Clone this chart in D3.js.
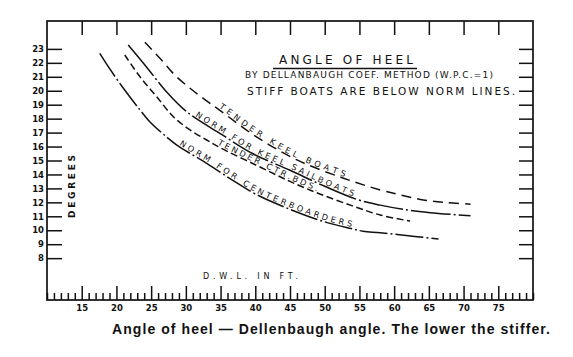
<!DOCTYPE html>
<html><head><meta charset="utf-8">
<script src="https://cdn.jsdelivr.net/npm/d3@7"></script>
<style>
html,body{margin:0;padding:0;background:#fff;}
svg{display:block;}
</style></head>
<body>
<script>
// ---- data ----
const majorX = [15,20,25,30,35,40,45,50,55,60,65,70,75];
const minorX = d3.range(10,81).filter(v => v % 5 !== 0 || v === 10 || v === 80);
const yTicks = [8,9,10,11,12,13,14,15,16,17,18,19,20,21,22,23];

const tenderKeelX = [24.1,26.5,28.4,30.6,32.5,34.9,40,46,52.6,58,60.9,64.2,67.6,71];
const tenderKeelY = [23.47,22.2,21.13,20.18,19.46,18.6,16.75,15.04,13.75,12.89,12.53,12.17,11.98,11.87];

const normKeelX = [21.7,24.3,27.2,30.1,35.2,39.6,45,50,54.7,58,61.9,65.2,71];
const normKeelY = [23.28,21.72,19.93,18.5,16.85,15.5,14.3,13.15,12.2,11.8,11.45,11.26,11.04];

const tenderCbX = [21.2,23.4,25.8,28.2,30.6,33,35,40.2,45,49.3,54,58,62.3];
const tenderCbY = [22.56,21.0,19.57,18.14,17.19,16.47,15.9,14.65,13.5,12.6,11.75,11.09,10.66];

const normCbX = [17.6,19.0,21.0,23.4,24.8,27.2,28.7,33,37,40,45,50,53.8,55.5,58,63.3,66.4];
const normCbY = [22.68,21.6,20.18,18.62,17.78,16.7,16.1,14.8,13.5,12.6,11.5,10.6,10.12,9.93,9.82,9.54,9.37];

const seriesNames = ["TENDER KEEL BOATS","NORM FOR KEEL SAILBOATS","TENDER CTR.BDS.","NORM FOR CENTERBOARDERS"];
const labelStart = [34.6,31.2,34.4,28.9];
const labelEnd = [52.8,54.0,48.8,53.8];

const titleLines = ["ANGLE OF HEEL","BY DELLANBAUGH COEF. METHOD (W.P.C.=1)","STIFF BOATS ARE BELOW NORM LINES."];
const xTitle = "D.W.L. IN FT.";
const yTitle = "DEGREES";
const caption = "Angle of heel \u2014 Dellenbaugh angle. The lower the stiffer.";

// ---- chart ----
const W = 573, H = 357;
const ink = "#111";
const svg = d3.select("body").append("svg").attr("width", W).attr("height", H);
svg.append("rect").attr("width", W).attr("height", H).attr("fill", "#fff");

const x = d3.scaleLinear().domain([10,80]).range([47,533]);
const y = d3.scaleLinear().domain([5,25]).range([300,21]);

function styleAxis(g){
  g.select(".domain").remove();
  g.selectAll(".tick line").attr("stroke", ink).attr("stroke-width", 1.5);
  g.selectAll(".tick text").attr("fill", ink)
    .attr("font-family", "DejaVu Sans").attr("font-weight", "bold").attr("font-size", 8.5);
}

// top ticks
svg.append("g").attr("transform", `translate(0,${y(25)})`)
  .call(d3.axisBottom(x).tickValues(majorX).tickSize(14).tickFormat(""))
  .call(styleAxis);
// bottom minor ticks
svg.append("g").attr("transform", `translate(0,${y(5)})`)
  .call(d3.axisTop(x).tickValues(minorX).tickSize(7).tickFormat(""))
  .call(styleAxis);
// bottom major ticks + labels
svg.append("g").attr("transform", `translate(0,${y(5)})`)
  .call(d3.axisBottom(x).tickValues(majorX).tickSizeInner(-14).tickSizeOuter(0).tickPadding(5))
  .call(styleAxis);
// left ticks + labels
svg.append("g").attr("transform", `translate(${x(10)},0)`)
  .call(d3.axisLeft(y).tickValues(yTicks).tickSizeInner(-15).tickSizeOuter(0).tickPadding(3))
  .call(styleAxis);
// right ticks
svg.append("g").attr("transform", `translate(${x(80)},0)`)
  .call(d3.axisRight(y).tickValues(yTicks).tickSizeInner(-14).tickSizeOuter(0).tickFormat(""))
  .call(styleAxis);

// frame
svg.append("rect")
  .attr("x", x(10)).attr("y", y(25))
  .attr("width", x(80) - x(10)).attr("height", y(5) - y(25))
  .attr("fill", "none").attr("stroke", ink).attr("stroke-width", 1.7);

// curves
const series = [
  {xs: tenderKeelX, ys: tenderKeelY, dash: "10,6"},
  {xs: normKeelX, ys: normKeelY, dash: "40,3,2,3"},
  {xs: tenderCbX, ys: tenderCbY, dash: "7,3.5"},
  {xs: normCbX, ys: normCbY, dash: "28,3,2,3"}
];
const line = d3.line().x(d => x(d[0])).y(d => y(d[1])).curve(d3.curveCatmullRom.alpha(0.5));

function lenAt(node, px){
  let lo = 0, hi = node.getTotalLength();
  for (let i = 0; i < 40; i++){
    const mid = (lo + hi) / 2;
    if (node.getPointAtLength(mid).x < px) lo = mid; else hi = mid;
  }
  return lo;
}

const labelFont = 8.2;
const measurer = svg.append("text").attr("font-family", "DejaVu Sans").attr("font-size", labelFont)
  .attr("x", -100).attr("y", -100);

series.forEach((s, i) => {
  const pts = s.xs.map((v, j) => [v, s.ys[j]]);
  const p = svg.append("path").attr("id", "curve" + i)
    .attr("d", line(pts))
    .attr("fill", "none").attr("stroke", ink).attr("stroke-width", 1.5)
    .attr("stroke-dasharray", s.dash);
  const node = p.node();
  const l0 = lenAt(node, x(labelStart[i]));
  const l1 = lenAt(node, x(labelEnd[i]));
  const chars = Array.from(seriesNames[i]);
  const widths = chars.map(c => {
    measurer.text(c === " " ? "\u00a0" : c);
    return measurer.node().getComputedTextLength();
  });
  const total = d3.sum(widths);
  const gap = (l1 - l0 - total) / (chars.length - 1);
  let pos = l0;
  const g = svg.append("g").attr("class", "curve-label");
  chars.forEach((c, k) => {
    const mid = pos + widths[k] / 2;
    pos += widths[k] + gap;
    if (c === " ") return;
    const a = node.getPointAtLength(Math.max(0, mid - 1));
    const b = node.getPointAtLength(mid + 1);
    const m = node.getPointAtLength(mid);
    const ang = Math.atan2(b.y - a.y, b.x - a.x) * 180 / Math.PI;
    g.append("text")
      .attr("transform", `translate(${m.x},${m.y}) rotate(${ang}) translate(0,-1.6)`)
      .attr("text-anchor", "middle")
      .attr("font-family", "DejaVu Sans").attr("font-size", labelFont).attr("fill", ink)
      .text(c);
  });
});
measurer.remove();

// title block
svg.append("text").attr("x", 279).attr("y", 64)
  .attr("font-family", "DejaVu Sans").attr("font-size", 12).attr("fill", ink)
  .attr("textLength", 134).attr("lengthAdjust", "spacing").text(titleLines[0]);
svg.append("line").attr("x1", 273).attr("x2", 417).attr("y1", 68.5).attr("y2", 68.5)
  .attr("stroke", ink).attr("stroke-width", 1.5);
svg.append("text").attr("x", 245).attr("y", 78)
  .attr("font-family", "DejaVu Sans").attr("font-size", 9).attr("fill", ink)
  .attr("textLength", 248).attr("lengthAdjust", "spacing").text(titleLines[1]);
svg.append("text").attr("x", 247).attr("y", 95)
  .attr("font-family", "DejaVu Sans").attr("font-size", 10.5).attr("fill", ink)
  .attr("textLength", 268).attr("lengthAdjust", "spacing").text(titleLines[2]);

// axis titles
svg.append("text").attr("x", 203).attr("y", 278.5)
  .attr("font-family", "DejaVu Sans").attr("font-size", 8).attr("fill", ink)
  .attr("textLength", 95).attr("lengthAdjust", "spacing").text(xTitle);
svg.append("text")
  .attr("transform", "translate(75,218) rotate(-90)")
  .attr("font-family", "DejaVu Sans").attr("font-weight", "bold").attr("font-size", 9).attr("fill", ink)
  .attr("textLength", 63).attr("lengthAdjust", "spacing").text(yTitle);

// caption
svg.append("text").attr("x", 112).attr("y", 333.5)
  .attr("font-family", "Liberation Sans").attr("font-weight", "bold").attr("font-size", 14).attr("fill", ink)
  .attr("textLength", 438).attr("lengthAdjust", "spacing").text(caption);
</script>
</body></html>
